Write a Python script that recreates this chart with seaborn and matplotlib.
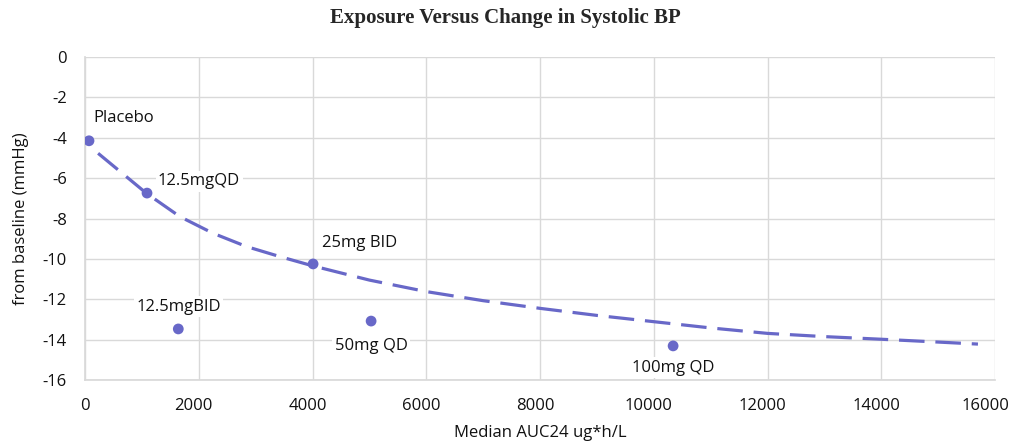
import numpy as np
import pandas as pd
import matplotlib
matplotlib.use('Agg')
import matplotlib.pyplot as plt
import matplotlib.transforms as mtrans
import seaborn as sns

# observed dose groups
dose_labels = ['Placebo', '12.5mgQD', '12.5mgBID', '25mg BID', '50mg QD', '100mg QD']
auc_median = [70, 1090, 1640, 4010, 5030, 10340]
sbp_change = [-4.15, -6.74, -13.47, -10.25, -13.08, -14.31]

# model curve
curve_auc = [230, 1080, 1670, 2250, 2840, 3430, 4010, 5000, 6000, 7000, 8000,
             9000, 10000, 11000, 12000, 13000, 14000, 15000, 15700]
curve_sbp = [-4.77, -6.75, -7.91, -8.73, -9.39, -9.89, -10.35, -11.05, -11.62, -12.07,
             -12.45, -12.8, -13.11, -13.42, -13.69, -13.85, -13.98, -14.12, -14.22]

x_ticks = [0, 2000, 4000, 6000, 8000, 10000, 12000, 14000, 16000]
y_ticks = [0, -2, -4, -6, -8, -10, -12, -14, -16]

purple = '#6868c8'
grid_c = '#d9d9d9'

sns.set_theme(style="whitegrid")
plt.rcParams['font.family'] = ['Open Sans', 'DejaVu Sans']

fig = plt.figure(figsize=(10.11, 4.44), dpi=100)
ax = fig.add_axes([0.0841, 0.1441, 0.9001, 0.7275])

curve_df = pd.DataFrame({'auc': curve_auc, 'sbp': curve_sbp})
obs_df = pd.DataFrame({'auc': auc_median, 'sbp': sbp_change, 'dose': dose_labels})

sns.lineplot(data=curve_df, x='auc', y='sbp', ax=ax, color=purple, lw=2.3,
             sort=False, estimator=None, dashes=False, zorder=3)
ax.lines[-1].set_dashes((8, 3.4))
sns.scatterplot(data=obs_df, x='auc', y='sbp', ax=ax, color=purple, s=60,
                edgecolor='none', zorder=4)

# label offsets in pixels (dx, dy) and alignment
offsets = [(4, 23, 'left'), (11, 12, 'left'), (0, 22, 'center'),
           (9, 21, 'left'), (0, -25, 'center'), (0, -22, 'center')]
for (lab, xv, yv), (dx, dy, ha) in zip(zip(dose_labels, auc_median, sbp_change), offsets):
    ax.annotate(lab, (xv, yv), xytext=(dx * 0.72, dy * 0.72), textcoords='offset points',
                ha=ha, va='center', fontsize=12, color='#111111', zorder=5,
                bbox=dict(boxstyle='square,pad=0.15', fc='white', ec='none'))

ax.set_xlim(0, 16000)
ax.set_ylim(-16, 0)
ax.set_xticks(x_ticks)
ax.set_yticks(y_ticks)
ax.set_xticklabels([str(t) for t in x_ticks], fontsize=12)
ax.set_yticklabels([str(t) for t in y_ticks], fontsize=12)
ax.tick_params(axis='both', length=0, pad=13, colors='#111111')

# Excel nudges the x labels a little to the left
for i, lbl in enumerate(ax.get_xticklabels()):
    shift = 0 if i == 0 else (-10 if i == len(x_ticks) - 1 else -5)
    lbl.set_transform(lbl.get_transform() + mtrans.ScaledTranslation(shift / 100, 0, fig.dpi_scale_trans))

ax.grid(True, color=grid_c, lw=1.0)
ax.set_axisbelow(True)
for s in ax.spines.values():
    s.set_visible(False)
ax.spines['left'].set_visible(True)
ax.spines['bottom'].set_visible(True)
ax.spines['left'].set_color(grid_c)
ax.spines['bottom'].set_color(grid_c)
ax.set_facecolor('white')

ax.set_xlabel('Median AUC24 ug*h/L', fontsize=12, color='#111111', labelpad=8)
ax.set_ylabel('from baseline (mmHg)', fontsize=12, color='#111111', labelpad=10)
fig.suptitle('Exposure Versus Change in Systolic BP', fontsize=15, fontweight='bold',
             family='Liberation Serif', y=0.982)

fig.savefig('out.png', dpi=100, facecolor='white')
